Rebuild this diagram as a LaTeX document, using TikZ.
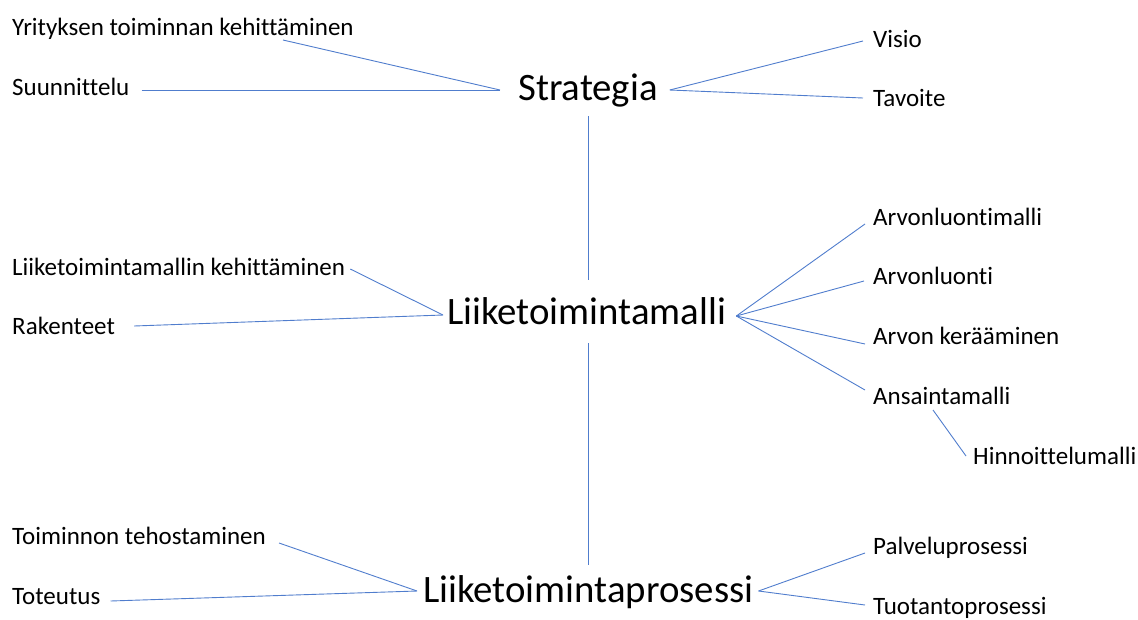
\documentclass[tikz,border=0pt]{standalone}
\usepackage{fontspec}
\setmainfont[Ligatures={NoCommon}]{Carlito}
\usetikzlibrary{calc}
\definecolor{linkblue}{RGB}{80,125,205}
\tikzset{
  small/.style={inner sep=0pt, anchor=base west, font=\fontsize{25}{28}\selectfont},
  big/.style={inner sep=0pt, anchor=base west, font=\fontsize{38.8}{42}\selectfont},
  link/.style={draw=linkblue, line width=0.9pt}
}
\begin{document}
\begin{tikzpicture}[x=1pt,y=-1pt]
\useasboundingbox (0,0) rectangle (1138,619);
% main nodes
\node[big] (strat) at (518,100) {Strategia};
\node[big] (malli) at (447,324) {Liiketoimintamalli};
\node[big] (pros) at (423,602) {Liiketoimintaprosessi};
% strategia group
\node[small] (yri) at (12,35) {Yrityksen toiminnan kehittäminen};
\node[small] (suu) at (12,95) {Suunnittelu};
\node[small] (vis) at (873,47) {Visio};
\node[small] (tav) at (873,106) {Tavoite};
% malli group
\node[small] (lkeh) at (12,275) {Liiketoimintamallin kehittäminen};
\node[small] (rak) at (12,334) {Rakenteet};
\node[small] (alm) at (873,225) {Arvonluontimalli};
\node[small] (al) at (873,284) {Arvonluonti};
\node[small] (ak) at (873,344) {Arvon kerääminen};
\node[small] (ans) at (873,404) {Ansaintamalli};
\node[small] (hin) at (973,464) {Hinnoittelumalli};
% prosessi group
\node[small] (teh) at (12,544) {Toiminnon tehostaminen};
\node[small] (tot) at (12,604) {Toteutus};
\node[small] (pal) at (873,554) {Palveluprosessi};
\node[small] (tuo) at (873,614) {Tuotantoprosessi};
% hub coordinates
\coordinate (sL) at ($(strat.base west)+(-18,-10)$);
\coordinate (sR) at ($(strat.base east)+(12,-10)$);
\coordinate (mL) at ($(malli.base west)+(-4,-9)$);
\coordinate (mR) at ($(malli.base east)+(10,-8)$);
\coordinate (pL) at ($(pros.base west)+(-6,-11)$);
\coordinate (pR) at ($(pros.base east)+(5,-11)$);
% strategia links
\draw[link] ($(yri.base west)+(271,5)$) -- (sL);
\draw[link] ($(suu.base east)+(12,-5)$) -- (sL);
\draw[link] (sR) -- ($(vis.base west)+(-10,-6)$);
\draw[link] (sR) -- ($(tav.base west)+(-10,-8)$);
% vertical
\draw[link] ($(strat.base west)+(70,16)$) -- ($(malli.base west)+(141,-44)$);
\draw[link] ($(malli.base west)+(141,19)$) -- ($(pros.base west)+(165,-37)$);
% malli links
\draw[link] ($(lkeh.base east)+(5,-6)$) -- (mL);
\draw[link] ($(rak.base east)+(19,-8)$) -- (mL);
\draw[link] (mR) -- ($(alm.base west)+(-8,-1)$);
\draw[link] (mR) -- ($(al.base west)+(-9,-3)$);
\draw[link] (mR) -- ($(ak.base west)+(-8,0)$);
\draw[link] (mR) -- ($(ans.base west)+(-8,-14)$);
\draw[link] ($(ans.base west)+(60,6)$) -- ($(hin.base west)+(-7,-8)$);
% prosessi links
\draw[link] ($(teh.base east)+(13,-1)$) -- (pL);
\draw[link] ($(tot.base east)+(10,-3)$) -- (pL);
\draw[link] (pR) -- ($(pal.base west)+(-8,-1)$);
\draw[link] (pR) -- ($(tuo.base west)+(-8,-9)$);
\end{tikzpicture}
\end{document}
